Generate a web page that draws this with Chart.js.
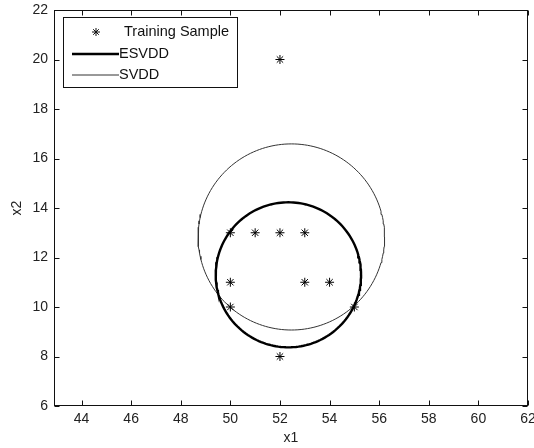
<!DOCTYPE html>
<html>
<head>
<meta charset="utf-8">
<script src="https://cdn.jsdelivr.net/npm/chart.js@4.4.0/dist/chart.umd.min.js"></script>
<style>
  html, body { margin: 0; padding: 0; background: #fff; }
  #wrap { width: 534px; height: 448px; }
</style>
</head>
<body>
<div id="wrap"><canvas id="plot"></canvas></div>
<script>
// training samples
const sampleX = [52, 50, 51, 52, 53, 50, 53, 54, 50, 55, 52];
const sampleY = [20, 13, 13, 13, 13, 11, 11, 11, 10, 10, 8];

// description boundaries: centre and radius
const boundaryNames = ["ESVDD", "SVDD"];
const centerX = [52.34, 52.46];
const centerY = [11.30, 12.83];
const radius = [2.93, 3.76];

// axes
const xTicks = [44, 46, 48, 50, 52, 54, 56, 58, 60, 62];
const yTicks = [6, 8, 10, 12, 14, 16, 18, 20, 22];
const legendLabels = ["Training Sample", "ESVDD", "SVDD"];

function circlePoints(i) {
  const pts = [];
  for (let k = 0; k <= 180; k++) {
    const t = (k / 180) * Math.PI * 2;
    pts.push({ x: centerX[i] + radius[i] * Math.cos(t), y: centerY[i] + radius[i] * Math.sin(t) });
  }
  return pts;
}

Chart.defaults.font.family = "'Liberation Sans', Arial, sans-serif";
Chart.defaults.font.size = 14;
Chart.defaults.color = "#222";

// matlab style box, inward ticks and legend
const frame = {
  id: "frame",
  afterDraw(chart) {
    const { ctx, chartArea: a, scales } = chart;
    const x = scales.x, y = scales.y;
    ctx.save();
    ctx.strokeStyle = "#111";
    ctx.lineWidth = 1;
    const L = Math.round(a.left) + 0.5, R = Math.round(a.right) - 0.5;
    const T = Math.round(a.top) + 0.5, B = Math.round(a.bottom) - 0.5;
    ctx.strokeRect(L, T, R - L, B - T);
    ctx.beginPath();
    xTicks.forEach(v => {
      const px = Math.round(x.getPixelForValue(v)) + 0.5;
      ctx.moveTo(px, B); ctx.lineTo(px, B - 5);
      ctx.moveTo(px, T); ctx.lineTo(px, T + 5);
    });
    yTicks.forEach(v => {
      const py = Math.round(y.getPixelForValue(v)) + 0.5;
      ctx.moveTo(L, py); ctx.lineTo(L + 5, py);
      ctx.moveTo(R, py); ctx.lineTo(R - 5, py);
    });
    ctx.stroke();

    // legend box
    const bx = 63.5, by = 17.5, bw = 174, bh = 70;
    ctx.fillStyle = "#fff";
    ctx.fillRect(bx, by, bw, bh);
    ctx.strokeRect(bx, by, bw, bh);
    const rows = [32, 54, 75];
    ctx.fillStyle = "#111";
    ctx.font = "14.5px 'Liberation Sans', Arial, sans-serif";
    ctx.textBaseline = "middle";
    // marker row
    const ds = chart.data.datasets;
    ctx.beginPath();
    const mx = 96, my = rows[0], r = 4;
    ctx.moveTo(mx - r, my); ctx.lineTo(mx + r, my);
    ctx.moveTo(mx, my - r); ctx.lineTo(mx, my + r);
    ctx.moveTo(mx - r * 0.7, my - r * 0.7); ctx.lineTo(mx + r * 0.7, my + r * 0.7);
    ctx.moveTo(mx - r * 0.7, my + r * 0.7); ctx.lineTo(mx + r * 0.7, my - r * 0.7);
    ctx.stroke();
    ctx.fillText(legendLabels[0], 124, rows[0]);
    for (let i = 1; i < 3; i++) {
      ctx.beginPath();
      ctx.lineWidth = ds[i].borderWidth;
      ctx.strokeStyle = ds[i].borderColor;
      ctx.moveTo(72, rows[i]); ctx.lineTo(119, rows[i]);
      ctx.stroke();
      ctx.fillText(legendLabels[i], 119, rows[i]);
    }
    ctx.restore();
  }
};

new Chart(document.getElementById("plot"), {
  type: "scatter",
  data: {
    datasets: [
      {
        label: legendLabels[0],
        data: sampleX.map((v, i) => ({ x: v, y: sampleY[i] })),
        pointStyle: "star",
        pointRadius: 4.5,
        borderColor: "#000",
        backgroundColor: "#000",
        borderWidth: 1
      },
      {
        label: boundaryNames[0],
        data: circlePoints(0),
        showLine: true,
        pointRadius: 0,
        borderColor: "#000",
        borderWidth: 2.4,
        tension: 0
      },
      {
        label: boundaryNames[1],
        data: circlePoints(1),
        showLine: true,
        pointRadius: 0,
        borderColor: "#333",
        borderWidth: 1,
        tension: 0
      }
    ]
  },
  options: {
    responsive: true,
    maintainAspectRatio: false,
    animation: false,
    layout: { padding: { top: 10, right: 6, left: 0, bottom: 0 } },
    plugins: { legend: { display: false }, tooltip: { enabled: false } },
    scales: {
      x: {
        type: "linear",
        min: 42.89,
        max: 62,
        grid: { display: false, drawTicks: false },
        border: { display: false },
        afterBuildTicks: s => { s.ticks = xTicks.map(v => ({ value: v })); },
        afterFit: s => { s.height = 42; s.paddingLeft = 0; s.paddingRight = 0; },
        ticks: { padding: 5, maxRotation: 0, autoSkip: false, color: "#222" },
        title: { display: true, text: "x1", padding: { top: 0, bottom: 1 }, color: "#222" }
      },
      y: {
        type: "linear",
        min: 6,
        max: 22,
        grid: { display: false, drawTicks: false },
        border: { display: false },
        afterBuildTicks: s => { s.ticks = yTicks.map(v => ({ value: v })); },
        afterFit: s => { s.width = 54; s.paddingTop = 0; s.paddingBottom = 0; },
        ticks: { padding: 6, autoSkip: false, color: "#222" },
        title: { display: true, text: "x2", padding: { top: 9, bottom: 0 }, color: "#222" }
      }
    }
  },
  plugins: [frame]
});
</script>
</body>
</html>
